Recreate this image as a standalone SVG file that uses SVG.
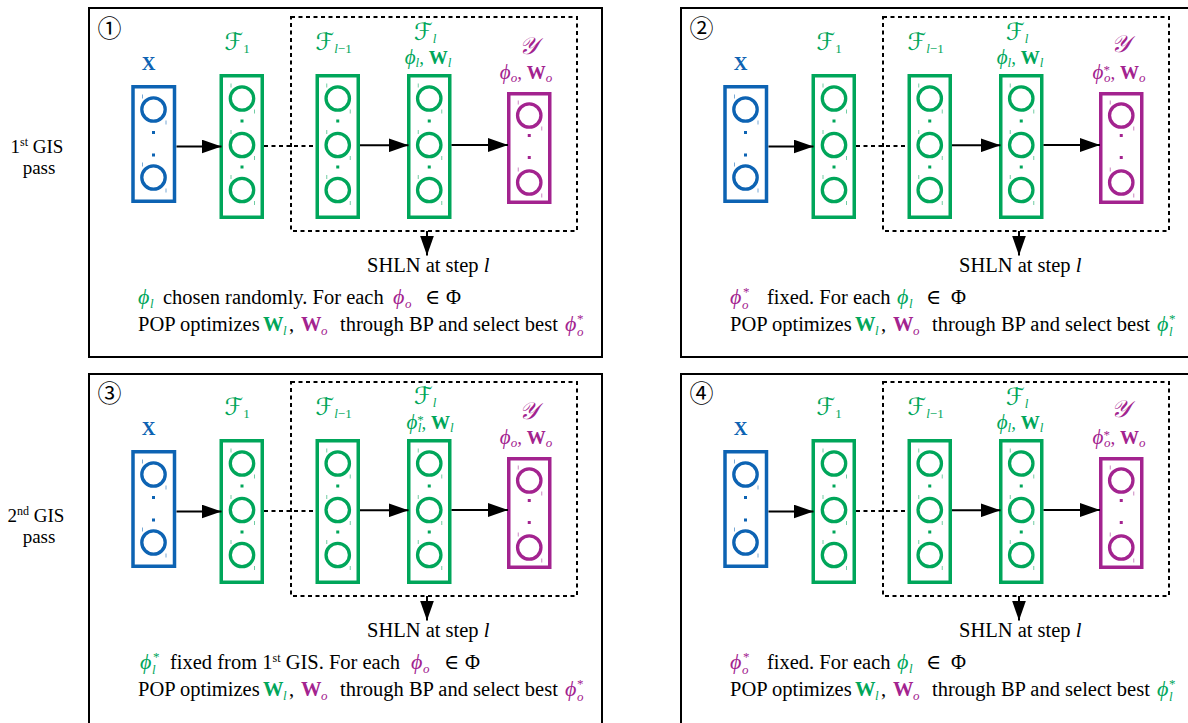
<svg xmlns="http://www.w3.org/2000/svg" xmlns:xlink="http://www.w3.org/1999/xlink" width="1188" height="723" viewBox="0 0 1188 723">
<style>
text{font-family:"Liberation Serif","DejaVu Serif",serif;fill:#000}
.frame{fill:none;stroke:#000;stroke-width:2}
.box{fill:none;stroke:currentColor;stroke-width:3.5}
.dash{fill:none;stroke:#000;stroke-width:2;stroke-dasharray:4 3.5}
.arr{fill:none;stroke:#000;stroke-width:2;marker-end:url(#ah)}
.num{font-family:"Noto Sans CJK JP","DejaVu Sans",sans-serif;font-size:24px;text-anchor:middle}
.lbl{font-size:19px;text-anchor:middle;fill:currentColor}
.main{font-size:20.5px}
.side{font-size:19px;text-anchor:middle}
.cal{font-family:"DejaVu Serif","DejaVu Sans",serif;font-style:italic;font-size:24px}
.it{font-style:italic}
.ph{font-size:22px}
.phl{font-size:21px}
.b{font-weight:bold}
.s{font-size:13px}
.s2{font-size:12px}
.g{fill:#00a65a}
.p{fill:#a3238f}
</style>
<defs>
<g id="nrn"><circle r="11.7" fill="none" stroke="currentColor" stroke-width="3.3"/><path d="M-11,-15v4M12.5,11v4" stroke="currentColor" stroke-width="1" opacity="0.55"/></g>
<rect id="dot" x="-1.5" y="-1.5" width="3" height="3" fill="currentColor"/>
<marker id="ah" markerUnits="userSpaceOnUse" markerWidth="20" markerHeight="14" refX="20" refY="7" orient="auto"><path d="M0,0L20,7L0,14z" fill="#000"/></marker>
</defs>

<g id="side-labels">
<text class="side" x="37" y="153">1<tspan class="s2" dy="-7">st</tspan><tspan dy="7"> GIS</tspan></text>
<text class="side" x="39" y="174">pass</text>
<text class="side" x="36" y="522">2<tspan class="s2" dy="-7">nd</tspan><tspan dy="7"> GIS</tspan></text>
<text class="side" x="39" y="543">pass</text>
</g>

<!-- PANEL 1 -->
<g id="panel1">
<rect class="frame" x="89" y="8" width="513" height="349"/>
<text class="num" x="109.5" y="37">①</text>
<g id="p1-x" color="#0d63b3">
<text class="lbl b" x="148.5" y="70">X</text>
<rect class="box" x="133" y="86.75" width="41.5" height="114.5"/>
<use xlink:href="#nrn" x="153.5" y="109.5"/><use xlink:href="#dot" x="153.5" y="132.5"/><use xlink:href="#dot" x="153.5" y="155"/><use xlink:href="#nrn" x="153.5" y="177.5"/>
</g>
<g id="p1-f1" color="#00a65a">
<text class="lbl" x="237" y="50"><tspan class="cal">ℱ</tspan><tspan class="s" dy="3">1</tspan></text>
<rect class="box" x="221.25" y="75.75" width="41" height="141.5"/>
<use xlink:href="#nrn" x="242" y="98.5"/><use xlink:href="#dot" x="242" y="121"/><use xlink:href="#nrn" x="242" y="145"/><use xlink:href="#dot" x="242" y="167"/><use xlink:href="#nrn" x="242" y="190"/>
</g>
<g id="p1-fl1" color="#00a65a">
<text class="lbl" x="333.5" y="50"><tspan class="cal">ℱ</tspan><tspan class="s it" dy="3">l</tspan><tspan class="s">−1</tspan></text>
<rect class="box" x="317.25" y="75.75" width="41" height="141.5"/>
<use xlink:href="#nrn" x="337.75" y="98.5"/><use xlink:href="#dot" x="337.75" y="121"/><use xlink:href="#nrn" x="337.75" y="145"/><use xlink:href="#dot" x="337.75" y="167"/><use xlink:href="#nrn" x="337.75" y="190"/>
</g>
<g id="p1-fl" color="#00a65a">
<text class="lbl" x="425" y="40"><tspan class="cal">ℱ</tspan><tspan class="s it" dy="3">l</tspan></text>
<text class="lbl" x="428" y="64"><tspan class="it phl">ϕ</tspan><tspan class="s it" dy="3">l</tspan><tspan dy="-3">, </tspan><tspan class="b">W</tspan><tspan class="s it" dy="3">l</tspan></text>
<rect class="box" x="408.75" y="75.75" width="41" height="141.5"/>
<use xlink:href="#nrn" x="429.25" y="98.5"/><use xlink:href="#dot" x="429.25" y="121"/><use xlink:href="#nrn" x="429.25" y="145"/><use xlink:href="#dot" x="429.25" y="167"/><use xlink:href="#nrn" x="429.25" y="190"/>
</g>
<g id="p1-y" color="#a3238f">
<text class="lbl" x="528" y="54"><tspan class="cal">𝒴</tspan></text>
<text class="lbl" x="526" y="79"><tspan class="it phl">ϕ</tspan><tspan class="s it" dy="3">o</tspan><tspan dy="-3">, </tspan><tspan class="b">W</tspan><tspan class="s it" dy="3">o</tspan></text>
<rect class="box" x="508.75" y="93.75" width="41" height="108.5"/>
<use xlink:href="#nrn" x="529.25" y="115.5"/><use xlink:href="#dot" x="529.25" y="135.5"/><use xlink:href="#dot" x="529.25" y="157.5"/><use xlink:href="#nrn" x="529.25" y="182.5"/>
</g>
<g id="p1-shln">
<rect class="dash" x="291" y="17" width="286" height="214"/>
<text class="main" x="367" y="272">SHLN at step <tspan class="it">l</tspan></text>
</g>
<g id="p1-edges">
<line class="arr" x1="176.5" y1="146.5" x2="221.5" y2="146.5"/>
<line class="dash" x1="264" y1="146" x2="316" y2="146"/>
<line class="arr" x1="360" y1="145.3" x2="408.5" y2="145.3"/>
<line class="arr" x1="451.5" y1="145" x2="508" y2="145"/>
<line class="arr" x1="427" y1="231" x2="427" y2="255.5"/>
</g>
<g id="p1-caption">
<text class="main" y="304"><tspan class="g it ph" x="138">ϕ</tspan><tspan class="g it s" x="150" y="308">l</tspan><tspan x="163" y="304">chosen randomly. For each</tspan><tspan class="p it ph" x="393">ϕ</tspan><tspan class="p it s" x="405" y="308">o</tspan><tspan x="425" y="304">∈</tspan><tspan x="446">Φ</tspan></text>
<text class="main" y="331"><tspan x="138">POP optimizes</tspan><tspan class="g b" x="263">W</tspan><tspan class="g it s" x="283" y="335">l</tspan><tspan x="289" y="331">,</tspan><tspan class="p b" x="301">W</tspan><tspan class="p it s" x="321" y="335">o</tspan><tspan x="340" y="331">through BP and select best</tspan><tspan class="p it ph" x="565">ϕ</tspan><tspan class="p s" x="577" y="323">*</tspan><tspan class="p it s" x="577" y="336">o</tspan></text>
</g>
</g>

<!-- PANEL 2 -->
<g id="panel2" transform="translate(592,0)">
<rect class="frame" x="89" y="8" width="620" height="349"/>
<text class="num" x="109.5" y="37">②</text>
<g id="p2-x" color="#0d63b3">
<text class="lbl b" x="148.5" y="70">X</text>
<rect class="box" x="133" y="86.75" width="41.5" height="114.5"/>
<use xlink:href="#nrn" x="153.5" y="109.5"/><use xlink:href="#dot" x="153.5" y="132.5"/><use xlink:href="#dot" x="153.5" y="155"/><use xlink:href="#nrn" x="153.5" y="177.5"/>
</g>
<g id="p2-f1" color="#00a65a">
<text class="lbl" x="237" y="50"><tspan class="cal">ℱ</tspan><tspan class="s" dy="3">1</tspan></text>
<rect class="box" x="221.25" y="75.75" width="41" height="141.5"/>
<use xlink:href="#nrn" x="242" y="98.5"/><use xlink:href="#dot" x="242" y="121"/><use xlink:href="#nrn" x="242" y="145"/><use xlink:href="#dot" x="242" y="167"/><use xlink:href="#nrn" x="242" y="190"/>
</g>
<g id="p2-fl1" color="#00a65a">
<text class="lbl" x="333.5" y="50"><tspan class="cal">ℱ</tspan><tspan class="s it" dy="3">l</tspan><tspan class="s">−1</tspan></text>
<rect class="box" x="317.25" y="75.75" width="41" height="141.5"/>
<use xlink:href="#nrn" x="337.75" y="98.5"/><use xlink:href="#dot" x="337.75" y="121"/><use xlink:href="#nrn" x="337.75" y="145"/><use xlink:href="#dot" x="337.75" y="167"/><use xlink:href="#nrn" x="337.75" y="190"/>
</g>
<g id="p2-fl" color="#00a65a">
<text class="lbl" x="425" y="40"><tspan class="cal">ℱ</tspan><tspan class="s it" dy="3">l</tspan></text>
<text class="lbl" x="428" y="64"><tspan class="it phl">ϕ</tspan><tspan class="s it" dy="3">l</tspan><tspan dy="-3">, </tspan><tspan class="b">W</tspan><tspan class="s it" dy="3">l</tspan></text>
<rect class="box" x="408.75" y="75.75" width="41" height="141.5"/>
<use xlink:href="#nrn" x="429.25" y="98.5"/><use xlink:href="#dot" x="429.25" y="121"/><use xlink:href="#nrn" x="429.25" y="145"/><use xlink:href="#dot" x="429.25" y="167"/><use xlink:href="#nrn" x="429.25" y="190"/>
</g>
<g id="p2-y" color="#a3238f">
<text class="lbl" x="528" y="52"><tspan class="cal">𝒴</tspan></text>
<text class="lbl" x="527" y="79"><tspan class="it phl">ϕ</tspan><tspan class="s" dy="-5">*</tspan><tspan class="s it" dx="-6" dy="8">o</tspan><tspan dy="-3">, </tspan><tspan class="b">W</tspan><tspan class="s it" dy="3">o</tspan></text>
<rect class="box" x="508.75" y="93.75" width="41" height="108.5"/>
<use xlink:href="#nrn" x="529.25" y="115.5"/><use xlink:href="#dot" x="529.25" y="135.5"/><use xlink:href="#dot" x="529.25" y="157.5"/><use xlink:href="#nrn" x="529.25" y="182.5"/>
</g>
<g id="p2-shln">
<rect class="dash" x="291" y="17" width="286" height="214"/>
<text class="main" x="367" y="272">SHLN at step <tspan class="it">l</tspan></text>
</g>
<g id="p2-edges">
<line class="arr" x1="176.5" y1="146.5" x2="221.5" y2="146.5"/>
<line class="dash" x1="264" y1="146" x2="316" y2="146"/>
<line class="arr" x1="360" y1="145.3" x2="408.5" y2="145.3"/>
<line class="arr" x1="451.5" y1="145" x2="508" y2="145"/>
<line class="arr" x1="427" y1="231" x2="427" y2="255.5"/>
</g>
<g id="p2-caption">
<text class="main" y="304"><tspan class="p it ph" x="138">ϕ</tspan><tspan class="p s" x="151" y="296">*</tspan><tspan class="p it s" x="150" y="309">o</tspan><tspan x="175" y="304">fixed. For each</tspan><tspan class="g it ph" x="305">ϕ</tspan><tspan class="g it s" x="317" y="308">l</tspan><tspan x="334" y="304">∈</tspan><tspan x="359">Φ</tspan></text>
<text class="main" y="331"><tspan x="138">POP optimizes</tspan><tspan class="g b" x="263">W</tspan><tspan class="g it s" x="283" y="335">l</tspan><tspan x="289" y="331">,</tspan><tspan class="p b" x="301">W</tspan><tspan class="p it s" x="321" y="335">o</tspan><tspan x="340" y="331">through BP and select best</tspan><tspan class="g it ph" x="565">ϕ</tspan><tspan class="g s" x="577" y="323">*</tspan><tspan class="g it s" x="577" y="336">l</tspan></text>
</g>
</g>

<!-- PANEL 3 -->
<g id="panel3" transform="translate(0,365)">
<rect class="frame" x="89" y="9" width="513" height="400"/>
<text class="num" x="109.5" y="37">③</text>
<g id="p3-x" color="#0d63b3">
<text class="lbl b" x="148.5" y="70">X</text>
<rect class="box" x="133" y="86.75" width="41.5" height="114.5"/>
<use xlink:href="#nrn" x="153.5" y="109.5"/><use xlink:href="#dot" x="153.5" y="132.5"/><use xlink:href="#dot" x="153.5" y="155"/><use xlink:href="#nrn" x="153.5" y="177.5"/>
</g>
<g id="p3-f1" color="#00a65a">
<text class="lbl" x="237" y="50"><tspan class="cal">ℱ</tspan><tspan class="s" dy="3">1</tspan></text>
<rect class="box" x="221.25" y="75.75" width="41" height="141.5"/>
<use xlink:href="#nrn" x="242" y="98.5"/><use xlink:href="#dot" x="242" y="121"/><use xlink:href="#nrn" x="242" y="145"/><use xlink:href="#dot" x="242" y="167"/><use xlink:href="#nrn" x="242" y="190"/>
</g>
<g id="p3-fl1" color="#00a65a">
<text class="lbl" x="333.5" y="50"><tspan class="cal">ℱ</tspan><tspan class="s it" dy="3">l</tspan><tspan class="s">−1</tspan></text>
<rect class="box" x="317.25" y="75.75" width="41" height="141.5"/>
<use xlink:href="#nrn" x="337.75" y="98.5"/><use xlink:href="#dot" x="337.75" y="121"/><use xlink:href="#nrn" x="337.75" y="145"/><use xlink:href="#dot" x="337.75" y="167"/><use xlink:href="#nrn" x="337.75" y="190"/>
</g>
<g id="p3-fl" color="#00a65a">
<text class="lbl" x="425" y="39"><tspan class="cal">ℱ</tspan><tspan class="s it" dy="3">l</tspan></text>
<text class="lbl" x="430" y="64"><tspan class="it phl">ϕ</tspan><tspan class="s" dy="-5">*</tspan><tspan class="s it" dx="-6" dy="8">l</tspan><tspan dy="-3">, </tspan><tspan class="b">W</tspan><tspan class="s it" dy="3">l</tspan></text>
<rect class="box" x="408.75" y="75.75" width="41" height="141.5"/>
<use xlink:href="#nrn" x="429.25" y="98.5"/><use xlink:href="#dot" x="429.25" y="121"/><use xlink:href="#nrn" x="429.25" y="145"/><use xlink:href="#dot" x="429.25" y="167"/><use xlink:href="#nrn" x="429.25" y="190"/>
</g>
<g id="p3-y" color="#a3238f">
<text class="lbl" x="528" y="54"><tspan class="cal">𝒴</tspan></text>
<text class="lbl" x="526" y="79"><tspan class="it phl">ϕ</tspan><tspan class="s it" dy="3">o</tspan><tspan dy="-3">, </tspan><tspan class="b">W</tspan><tspan class="s it" dy="3">o</tspan></text>
<rect class="box" x="508.75" y="93.75" width="41" height="108.5"/>
<use xlink:href="#nrn" x="529.25" y="115.5"/><use xlink:href="#dot" x="529.25" y="135.5"/><use xlink:href="#dot" x="529.25" y="157.5"/><use xlink:href="#nrn" x="529.25" y="182.5"/>
</g>
<g id="p3-shln">
<rect class="dash" x="291" y="17" width="286" height="214"/>
<text class="main" x="367" y="272">SHLN at step <tspan class="it">l</tspan></text>
</g>
<g id="p3-edges">
<line class="arr" x1="176.5" y1="146.5" x2="221.5" y2="146.5"/>
<line class="dash" x1="264" y1="146" x2="316" y2="146"/>
<line class="arr" x1="360" y1="145.3" x2="408.5" y2="145.3"/>
<line class="arr" x1="451.5" y1="145" x2="508" y2="145"/>
<line class="arr" x1="427" y1="231" x2="427" y2="255.5"/>
</g>
<g id="p3-caption">
<text class="main" y="304"><tspan class="g it ph" x="140">ϕ</tspan><tspan class="g s" x="153" y="296">*</tspan><tspan class="g it s" x="152" y="309">l</tspan><tspan x="170" y="304">fixed from 1</tspan><tspan class="s2" y="297">st</tspan><tspan y="304"> GIS. For each</tspan><tspan class="p it ph" x="411">ϕ</tspan><tspan class="p it s" x="423" y="308">o</tspan><tspan x="444" y="304">∈</tspan><tspan x="465">Φ</tspan></text>
<text class="main" y="331"><tspan x="138">POP optimizes</tspan><tspan class="g b" x="263">W</tspan><tspan class="g it s" x="283" y="335">l</tspan><tspan x="289" y="331">,</tspan><tspan class="p b" x="301">W</tspan><tspan class="p it s" x="321" y="335">o</tspan><tspan x="340" y="331">through BP and select best</tspan><tspan class="p it ph" x="565">ϕ</tspan><tspan class="p s" x="577" y="323">*</tspan><tspan class="p it s" x="577" y="336">o</tspan></text>
</g>
</g>

<!-- PANEL 4 -->
<g id="panel4" transform="translate(592,365)">
<rect class="frame" x="89" y="9" width="620" height="400"/>
<text class="num" x="109.5" y="37">④</text>
<g id="p4-x" color="#0d63b3">
<text class="lbl b" x="148.5" y="70">X</text>
<rect class="box" x="133" y="86.75" width="41.5" height="114.5"/>
<use xlink:href="#nrn" x="153.5" y="109.5"/><use xlink:href="#dot" x="153.5" y="132.5"/><use xlink:href="#dot" x="153.5" y="155"/><use xlink:href="#nrn" x="153.5" y="177.5"/>
</g>
<g id="p4-f1" color="#00a65a">
<text class="lbl" x="237" y="50"><tspan class="cal">ℱ</tspan><tspan class="s" dy="3">1</tspan></text>
<rect class="box" x="221.25" y="75.75" width="41" height="141.5"/>
<use xlink:href="#nrn" x="242" y="98.5"/><use xlink:href="#dot" x="242" y="121"/><use xlink:href="#nrn" x="242" y="145"/><use xlink:href="#dot" x="242" y="167"/><use xlink:href="#nrn" x="242" y="190"/>
</g>
<g id="p4-fl1" color="#00a65a">
<text class="lbl" x="333.5" y="50"><tspan class="cal">ℱ</tspan><tspan class="s it" dy="3">l</tspan><tspan class="s">−1</tspan></text>
<rect class="box" x="317.25" y="75.75" width="41" height="141.5"/>
<use xlink:href="#nrn" x="337.75" y="98.5"/><use xlink:href="#dot" x="337.75" y="121"/><use xlink:href="#nrn" x="337.75" y="145"/><use xlink:href="#dot" x="337.75" y="167"/><use xlink:href="#nrn" x="337.75" y="190"/>
</g>
<g id="p4-fl" color="#00a65a">
<text class="lbl" x="425" y="40"><tspan class="cal">ℱ</tspan><tspan class="s it" dy="3">l</tspan></text>
<text class="lbl" x="428" y="64"><tspan class="it phl">ϕ</tspan><tspan class="s it" dy="3">l</tspan><tspan dy="-3">, </tspan><tspan class="b">W</tspan><tspan class="s it" dy="3">l</tspan></text>
<rect class="box" x="408.75" y="75.75" width="41" height="141.5"/>
<use xlink:href="#nrn" x="429.25" y="98.5"/><use xlink:href="#dot" x="429.25" y="121"/><use xlink:href="#nrn" x="429.25" y="145"/><use xlink:href="#dot" x="429.25" y="167"/><use xlink:href="#nrn" x="429.25" y="190"/>
</g>
<g id="p4-y" color="#a3238f">
<text class="lbl" x="528" y="52"><tspan class="cal">𝒴</tspan></text>
<text class="lbl" x="527" y="79"><tspan class="it phl">ϕ</tspan><tspan class="s" dy="-5">*</tspan><tspan class="s it" dx="-6" dy="8">o</tspan><tspan dy="-3">, </tspan><tspan class="b">W</tspan><tspan class="s it" dy="3">o</tspan></text>
<rect class="box" x="508.75" y="93.75" width="41" height="108.5"/>
<use xlink:href="#nrn" x="529.25" y="115.5"/><use xlink:href="#dot" x="529.25" y="135.5"/><use xlink:href="#dot" x="529.25" y="157.5"/><use xlink:href="#nrn" x="529.25" y="182.5"/>
</g>
<g id="p4-shln">
<rect class="dash" x="291" y="17" width="286" height="214"/>
<text class="main" x="367" y="272">SHLN at step <tspan class="it">l</tspan></text>
</g>
<g id="p4-edges">
<line class="arr" x1="176.5" y1="146.5" x2="221.5" y2="146.5"/>
<line class="dash" x1="264" y1="146" x2="316" y2="146"/>
<line class="arr" x1="360" y1="145.3" x2="408.5" y2="145.3"/>
<line class="arr" x1="451.5" y1="145" x2="508" y2="145"/>
<line class="arr" x1="427" y1="231" x2="427" y2="255.5"/>
</g>
<g id="p4-caption">
<text class="main" y="304"><tspan class="p it ph" x="138">ϕ</tspan><tspan class="p s" x="151" y="296">*</tspan><tspan class="p it s" x="150" y="309">o</tspan><tspan x="175" y="304">fixed. For each</tspan><tspan class="g it ph" x="305">ϕ</tspan><tspan class="g it s" x="317" y="308">l</tspan><tspan x="334" y="304">∈</tspan><tspan x="359">Φ</tspan></text>
<text class="main" y="331"><tspan x="138">POP optimizes</tspan><tspan class="g b" x="263">W</tspan><tspan class="g it s" x="283" y="335">l</tspan><tspan x="289" y="331">,</tspan><tspan class="p b" x="301">W</tspan><tspan class="p it s" x="321" y="335">o</tspan><tspan x="340" y="331">through BP and select best</tspan><tspan class="g it ph" x="565">ϕ</tspan><tspan class="g s" x="577" y="323">*</tspan><tspan class="g it s" x="577" y="336">l</tspan></text>
</g>
</g>
</svg>
